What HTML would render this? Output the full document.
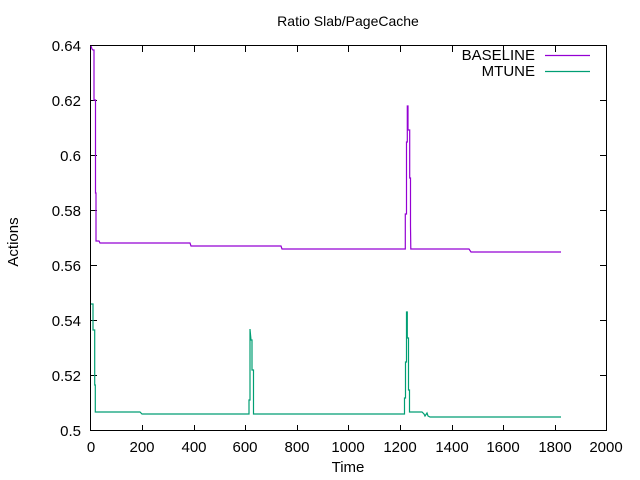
<!DOCTYPE html>
<html><head><style>body{margin:0;background:#fff}svg{display:block}text{font-family:"Liberation Sans",sans-serif;font-size:15px;fill:#000}</style></head><body>
<svg width="640" height="480" xmlns="http://www.w3.org/2000/svg">
<rect x="90.5" y="45.5" width="516" height="385" fill="none" stroke="#000" stroke-width="1"/>
<g stroke="#000" stroke-width="1">
<path d="M91 375.5h6M91 320.5h6M91 265.5h6M91 210.5h6M91 155.5h6M91 100.5h6M600 375.5h6M600 320.5h6M600 265.5h6M600 210.5h6M600 155.5h6M600 100.5h6"/>
<path d="M142.5 431v-6M194.5 431v-6M245.5 431v-6M297.5 431v-6M348.5 431v-6M400.5 431v-6M452.5 431v-6M503.5 431v-6M555.5 431v-6M142.5 46v6M194.5 46v6M245.5 46v6M297.5 46v6M348.5 46v6M400.5 46v6M452.5 46v6M503.5 46v6M555.5 46v6"/>
</g>
<g text-anchor="end">
<text x="81" y="436">0.5</text><text x="81" y="381">0.52</text><text x="81" y="326">0.54</text><text x="81" y="271">0.56</text><text x="81" y="216">0.58</text><text x="81" y="161">0.6</text><text x="81" y="106">0.62</text><text x="81" y="51">0.64</text>
</g>
<g text-anchor="middle">
<text x="91" y="452">0</text><text x="142" y="452">200</text><text x="194" y="452">400</text><text x="245" y="452">600</text><text x="297" y="452">800</text><text x="348" y="452">1000</text><text x="400" y="452">1200</text><text x="452" y="452">1400</text><text x="503" y="452">1600</text><text x="555" y="452">1800</text><text x="606" y="452">2000</text>
<text x="348" y="472">Time</text>
<text x="348" y="26" style="font-size:14px">Ratio Slab/PageCache</text>
<text transform="translate(18,242) rotate(-90)">Actions</text>
</g>
<g text-anchor="end"><text x="535" y="60">BASELINE</text><text x="535" y="76">MTUNE</text></g>
<path d="M545 55.5h45" stroke="#9400d3" stroke-width="1.2"/>
<path d="M545 71.5h45" stroke="#009e73" stroke-width="1.2"/>
<path fill="none" stroke="#9400d3" stroke-width="1.2" d="M91 46L92 49L93 50L94 50L94 100L95.5 100L95.5 193L96 193L96 241L99 241L100 243L190 243L191 246L281 246L282 249L405.3 249L405.3 214L406.5 214L406.5 142L407.3 142L407.3 106L408 106L408 130L409.7 130L409.7 178L410.5 178L410.5 226L410.8 249L469 249L471 252L561 252"/>
<path fill="none" stroke="#009e73" stroke-width="1.2" d="M91 304L93 304L93 330L94.7 330L94.7 385L95.3 385L95.3 412L140 412L142 414L249 414L249 400L250 400L250 329L251 340L252 340L252 370L253.5 370L253.5 414L404.5 414L404.5 398L405.5 398L405.5 362L406.5 362L406.5 312L407.3 312L407.3 338L408.5 338L408.5 390L409.5 390L409.5 412L422 412L424 414L425 416L427 413L428 416L430 417L561 417"/>
</svg>
</body></html>
